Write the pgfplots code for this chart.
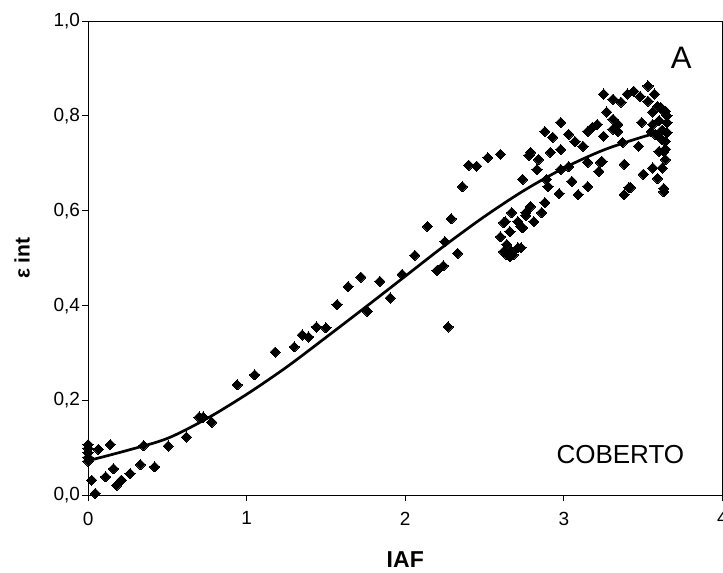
\documentclass[border=0pt]{standalone}
\usepackage{pgfplots}
\pgfplotsset{compat=1.18}
\usepackage{fontspec}
\setmainfont{Liberation Sans}
\begin{document}
\begin{tikzpicture}
\begin{axis}[
  width=634bp, height=474bp, scale only axis,
  xmin=0, xmax=4, ymin=0, ymax=1,
  xtick={0,1,2,3,4}, ytick={0,0.2,0.4,0.6,0.8,1.0},
  tick align=outside, major tick length=6bp,
  xtick pos=bottom, ytick pos=left,
  axis line style={line width=0.9bp},
  tick style={line width=0.9bp, color=black},
  /pgf/number format/assume math mode=true,
  yticklabel style={xshift=1.5bp, /pgf/number format/.cd, fixed, fixed zerofill, precision=1, use comma},
  xticklabel style={yshift=-7bp, /pgf/number format/.cd, fixed, precision=0},
  ticklabel style={font=\fontsize{19bp}{22bp}\selectfont},
  xlabel={\textbf{IAF}},
  label style={font=\fontsize{23bp}{26bp}\selectfont},
  xlabel style={at={(rel axis cs:0.5,0)}, anchor=center, yshift=-64bp, inner sep=0pt},
  clip=false,
]
\addplot[only marks, mark=square*, mark size=3.6bp, mark options={rotate=45, fill=black, draw=black, line width=0pt}] coordinates {
(0,0.107) (0,0.099) (0,0.090) (0,0.080) (0,0.072)
(0.065,0.097) (0.14,0.107) (0.35,0.105) (0.505,0.104) (0.62,0.123)
(0.70,0.165) (0.725,0.165) (0.78,0.154) (0.94,0.233)
(0.023,0.032) (0.045,0.004) (0.11,0.039) (0.16,0.056) (0.18,0.021)
(0.21,0.032) (0.265,0.046) (0.33,0.065) (0.42,0.060)
(1.05,0.254) (1.18,0.302) (1.30,0.313) (1.35,0.338) (1.39,0.334)
(1.44,0.355) (1.50,0.353) (1.57,0.402) (1.64,0.44) (1.72,0.46)
(1.76,0.388) (1.84,0.451) (1.905,0.416) (1.98,0.466) (2.06,0.506)
(2.14,0.567) (2.20,0.474) (2.24,0.484) (2.25,0.535) (2.27,0.355)
(2.29,0.583) (2.33,0.51) (2.36,0.651) (2.40,0.696) (2.45,0.694)
(2.52,0.712) (2.60,0.719)
(2.60,0.545) (2.62,0.575) (2.62,0.514) (2.63,0.577) (2.64,0.529)
(2.64,0.507) (2.66,0.556) (2.66,0.503) (2.67,0.596) (2.67,0.514)
(2.68,0.507) (2.71,0.577) (2.71,0.522) (2.73,0.522) (2.73,0.567)
(2.74,0.564) (2.76,0.59) (2.76,0.596)
(2.74,0.666) (2.78,0.717) (2.79,0.723) (2.79,0.609) (2.81,0.577)
(2.83,0.687) (2.84,0.708) (2.86,0.596) (2.88,0.767) (2.88,0.617)
(2.89,0.666) (2.90,0.651) (2.915,0.723) (2.93,0.755) (2.97,0.636)
(2.98,0.786) (2.98,0.729) (2.98,0.687) (3.03,0.761) (3.03,0.693)
(3.05,0.662) (3.07,0.746) (3.09,0.634) (3.12,0.736) (3.15,0.767)
(3.15,0.702) (3.15,0.651) (3.18,0.776) (3.21,0.782) (3.22,0.683)
(3.23,0.702) (3.24,0.704) (3.25,0.757) (3.25,0.846) (3.27,0.808)
(3.31,0.793) (3.31,0.835) (3.31,0.772) (3.34,0.767) (3.34,0.782)
(3.36,0.829) (3.37,0.744) (3.38,0.634) (3.38,0.698) (3.40,0.846)
(3.41,0.649) (3.42,0.649) (3.44,0.852) (3.47,0.736) (3.48,0.841)
(3.49,0.786) (3.50,0.677) (3.53,0.863) (3.53,0.831) (3.55,0.767)
(3.56,0.808) (3.56,0.782) (3.56,0.69) (3.57,0.846) (3.59,0.82)
(3.59,0.668) (3.60,0.725) (3.61,0.818) (3.62,0.69) (3.63,0.725)
(3.63,0.81) (3.63,0.647) (3.64,0.746) (3.64,0.708) (3.64,0.81)
(3.65,0.786) (3.65,0.765) (3.63,0.64) (3.62,0.75) (3.62,0.77)
(3.64,0.73) (3.65,0.80) (3.60,0.79) (3.58,0.76)
};
\addplot[line width=2.7bp, black, smooth] coordinates {
(0,0.073) (0.25,0.095) (0.5,0.120) (0.75,0.162) (1.0,0.213)
(1.25,0.270) (1.5,0.333) (1.75,0.397) (2.0,0.462) (2.25,0.527)
(2.5,0.588) (2.75,0.643) (3.0,0.690) (3.25,0.728) (3.5,0.756) (3.64,0.768)
};
\node[font=\fontsize{31bp}{34bp}\selectfont] at (rel axis cs:0.935,0.923) {A};
\node[font=\fontsize{26bp}{30bp}\selectfont] at (rel axis cs:0.839,0.086) {COBERTO};
\node[rotate=90, font=\fontsize{21bp}{24bp}\selectfont\bfseries] at ([xshift=-66bp]rel axis cs:0,0.5) {ε int};
\end{axis}
\pgfresetboundingbox
\path[use as bounding box] ([shift={(-88bp,-77bp)}]current axis.south west) rectangle ([shift={(0.5bp,21bp)}]current axis.north east);
\end{tikzpicture}
\end{document}
